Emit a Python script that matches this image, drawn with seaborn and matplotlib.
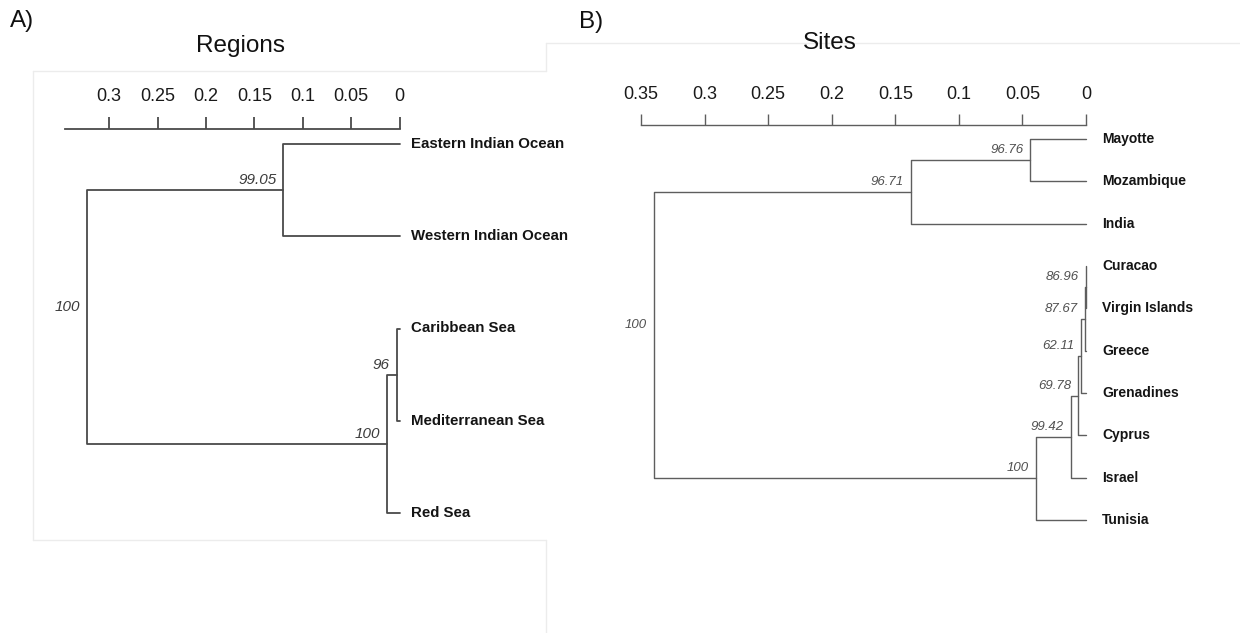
import numpy as np
import pandas as pd
import matplotlib
matplotlib.use("Agg")
import matplotlib.pyplot as plt
from matplotlib.lines import Line2D
import seaborn as sns

# ---------------- data ----------------
# Panel A: regions (leaves 0..4, internal nodes numbered 5.. in merge order)
region_leaves = ["Eastern Indian Ocean", "Western Indian Ocean", "Caribbean Sea",
                 "Mediterranean Sea", "Red Sea"]
region_merges = [(0, 1), (2, 3), (6, 4), (5, 7)]
region_heights = [0.120, 0.003, 0.0125, 0.323]
region_support = ["99.05", "96", "100", "100"]
region_ticks = [0.3, 0.25, 0.2, 0.15, 0.1, 0.05, 0]
region_ticklabels = ["0.3", "0.25", "0.2", "0.15", "0.1", "0.05", "0"]

# Panel B: sites (leaves 0..9, internal nodes numbered 10..)
site_leaves = ["Mayotte", "Mozambique", "India", "Curacao", "Virgin Islands",
               "Greece", "Grenadines", "Cyprus", "Israel", "Tunisia"]
site_merges = [(0, 1), (10, 2), (3, 4), (12, 5), (13, 6), (14, 7), (15, 8), (16, 9), (11, 17)]
site_heights = [0.0437, 0.138, 0.0003, 0.0008, 0.0037, 0.0063, 0.0118, 0.0397, 0.340]
site_support = ["96.76", "96.71", "86.96", "87.67", "62.11", "69.78", "99.42", "100", "100"]
site_ticks = [0.35, 0.3, 0.25, 0.2, 0.15, 0.1, 0.05, 0]
site_ticklabels = ["0.35", "0.3", "0.25", "0.2", "0.15", "0.1", "0.05", "0"]

# ---------------- style ----------------
sns.set_style("white")
plt.rcParams["font.family"] = ["Liberation Sans", "DejaVu Sans"]

W, H = 1240, 633
fig = plt.figure(figsize=(W / 100, H / 100), dpi=100)


def tree_paths(n_leaves, merges, heights):
    xs = [0.0] * n_leaves
    ys = [float(i) for i in range(n_leaves)]
    rows = []
    for k, ((a, b), h) in enumerate(zip(merges, heights)):
        pts = [(xs[a], ys[a]), (h, ys[a]), (h, ys[b]), (xs[b], ys[b])]
        for px, py in pts:
            rows.append((k, px, py))
        xs.append(h)
        ys.append((ys[a] + ys[b]) / 2)
    return pd.DataFrame(rows, columns=["node", "x", "y"]), xs, ys


def panel(box, zero_px, unit_px, leaf0_py, leaf_step, axis_py, axis_max,
          leaves, merges, heights, support, ticks, ticklabels,
          lw, lc, leaf_fs, leaf_gap, sup_fs, sup_color, tick_fs, tick_len, tick_pad):
    x0, y0, x1, y1 = box
    ax = fig.add_axes([x0 / W, 1 - y1 / H, (x1 - x0) / W, (y1 - y0) / H])
    df, xs, ys = tree_paths(len(leaves), merges, heights)
    sns.lineplot(data=df, x="x", y="y", units="node", estimator=None, sort=False,
                 color=lc, linewidth=lw, ax=ax, legend=False)
    ax.set_xlim((zero_px - x0) / unit_px, -(x1 - zero_px) / unit_px)
    ax.set_ylim((y1 - leaf0_py) / leaf_step, (y0 - leaf0_py) / leaf_step)
    ax.set_xlabel("")
    ax.set_ylabel("")
    ax.set_yticks([])
    for s in ["left", "right", "bottom"]:
        ax.spines[s].set_visible(False)
    sp = ax.spines["top"]
    sp.set_position(("data", (axis_py - leaf0_py) / leaf_step))
    sp.set_bounds(0, axis_max)
    sp.set_color(lc)
    sp.set_linewidth(lw)
    ax.xaxis.set_ticks_position("top")
    ax.set_xticks(ticks)
    ax.set_xticklabels(ticklabels)
    ax.tick_params(axis="x", direction="out", length=tick_len, width=lw, color=lc,
                   pad=tick_pad, labelsize=tick_fs, labelcolor="#1a1a1a",
                   bottom=False, top=True, labeltop=True, labelbottom=False)
    ax.patch.set_alpha(0)
    for i, name in enumerate(leaves):
        ax.annotate(name, xy=(0, i), xytext=(leaf_gap, 0), textcoords="offset points",
                    ha="left", va="center", fontsize=leaf_fs, fontweight="bold",
                    color="#141414")
    n = len(leaves)
    for k, lab in enumerate(support):
        ax.annotate(lab, xy=(xs[n + k], ys[n + k]), xytext=(-5, 7.2),
                    textcoords="offset points", ha="right", va="center",
                    fontsize=sup_fs, fontstyle="italic", color=sup_color)
    return ax


panel((33, 71, 546, 540), 399.5, 968.0, 144.0, 92.25, 129.0, 0.346,
      region_leaves, region_merges, region_heights, region_support,
      region_ticks, region_ticklabels,
      lw=1.3, lc="#4a4a4a", leaf_fs=10.8, leaf_gap=8.5, sup_fs=11, sup_color="#3c3c3c",
      tick_fs=13, tick_len=8.6, tick_pad=9)

panel((546, 43, 1240, 610), 1086.0, 1271.4, 139.0, 42.33, 125.0, 0.35,
      site_leaves, site_merges, site_heights, site_support,
      site_ticks, site_ticklabels,
      lw=1.0, lc="#5e5e5e", leaf_fs=10, leaf_gap=11.5, sup_fs=9.5, sup_color="#505050",
      tick_fs=13, tick_len=8, tick_pad=8)

# faint panel frames
fc = "#ececec"
def fline(xa, ya, xb, yb):
    fig.add_artist(Line2D([xa / W, xb / W], [1 - ya / H, 1 - yb / H], color=fc, lw=1.0))

fline(33, 71, 546, 71)
fline(33, 71, 33, 540)
fline(33, 540, 546, 540)
fline(546, 43, 546, 71)
fline(546, 540, 546, 633)
fline(546, 43, 1240, 43)

# titles and panel letters
fig.text(10 / W, 1 - 21 / H, "A)", ha="left", va="center", fontsize=17.5, color="#111111")
fig.text(579 / W, 1 - 22 / H, "B)", ha="left", va="center", fontsize=17.5, color="#111111")
fig.text(240 / W, 1 - 46 / H, "Regions", ha="center", va="center", fontsize=17.5, color="#111111")
fig.text(830 / W, 1 - 43 / H, "Sites", ha="center", va="center", fontsize=17.5, color="#111111")

fig.savefig("out.png", dpi=100)
